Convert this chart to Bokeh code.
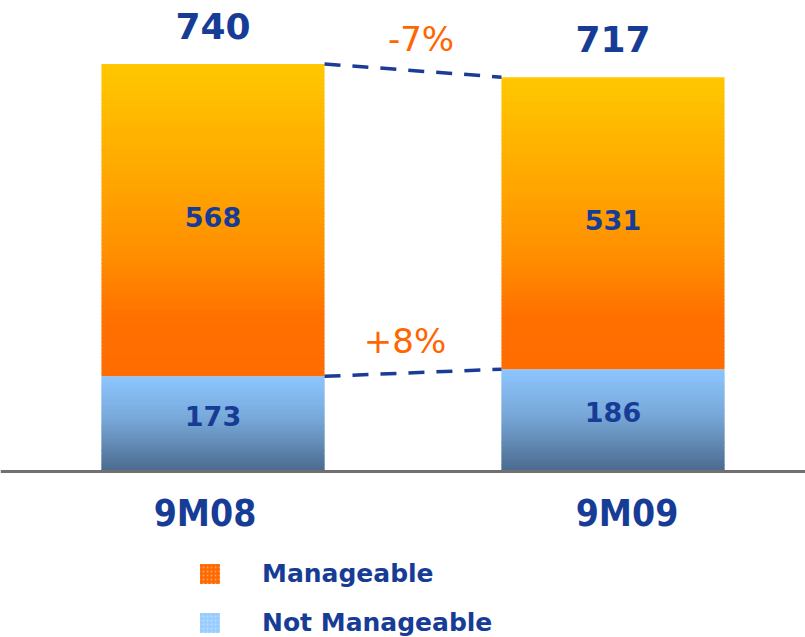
from bokeh.plotting import figure
from bokeh.models import Range1d, Span, ColumnDataSource, Legend, LegendItem
from bokeh.core.properties import value
from bokeh.embed import file_html
from bokeh.resources import INLINE

# ---------------- data ----------------
categories = ["9M08", "9M09"]
not_manageable = [173, 186]
manageable = [568, 531]
totals_text = ["740", "717"]
change_labels = ["-7%", "+8%"]   # total change, not-manageable change

# ---------------- style ----------------
BLUE_TXT = "#173c96"
ORANGE_TXT = "#ff6600"
orange_stops = [(0.0, "#ffc800"), (0.35, "#ffa800"), (0.6, "#ff9000"), (0.82, "#ff7000"), (1.0, "#ff6c00")]
blue_stops = [(0.0, "#8cc6ff"), (0.45, "#78a8d8"), (1.0, "#4a6a8e")]
BAR_W = 0.5575
PX_PER_UNIT = 0.55
BASE_PX = 471
H = 637
W = 805
N_SLICES = 80

def hex2rgb(h):
    h = h.lstrip("#")
    return tuple(int(h[i:i + 2], 16) for i in (0, 2, 4))

def interp(stops, t):
    for (t0, c0), (t1, c1) in zip(stops[:-1], stops[1:]):
        if t0 <= t <= t1:
            f = 0 if t1 == t0 else (t - t0) / (t1 - t0)
            a, b = hex2rgb(c0), hex2rgb(c1)
            return "#%02x%02x%02x" % tuple(round(a[k] + (b[k] - a[k]) * f) for k in range(3))
    return stops[-1][1]

xs = list(range(len(categories)))
y_top_val = BASE_PX / PX_PER_UNIT
y_bot_val = -(H - BASE_PX) / PX_PER_UNIT
x_left = -212.5 / 400
x_right = x_left + W / 400

p = figure(width=W, height=H, output_backend="svg", toolbar_location=None,
           x_range=Range1d(x_left, x_right), y_range=Range1d(y_bot_val, y_top_val),
           min_border=0, outline_line_color=None, background_fill_color="white",
           border_fill_color="white")
p.axis.visible = False
p.grid.visible = False

# gradient slices built from the data values
def gradient_segments(bottoms, tops, stops):
    d = dict(left=[], right=[], bottom=[], top=[], color=[])
    for x, b, t in zip(xs, bottoms, tops):
        for i in range(N_SLICES):
            frac_top = i / N_SLICES           # 0 at top of segment
            frac_bot = (i + 1) / N_SLICES
            d["left"].append(x - BAR_W / 2)
            d["right"].append(x + BAR_W / 2)
            d["top"].append(t - (t - b) * frac_top)
            d["bottom"].append(max(b, t - (t - b) * frac_bot - 1.5))
            d["color"].append(interp(stops, (i + 0.5) / N_SLICES))
    return ColumnDataSource(d)

nm_bottom = [0] * len(xs)
nm_top = not_manageable
m_top = [a + b for a, b in zip(not_manageable, manageable)]

p.quad(source=gradient_segments(nm_bottom, nm_top, blue_stops), left="left", right="right",
       bottom="bottom", top="top", fill_color="color", line_color=None)
p.quad(source=gradient_segments(nm_top, m_top, orange_stops), left="left", right="right",
       bottom="bottom", top="top", fill_color="color", line_color=None)

# baseline
p.add_layout(Span(location=0, dimension="width", line_color="#707070", line_width=3))

# dashed connectors
p.segment(x0=[xs[0] + BAR_W / 2] * 2, y0=[m_top[0], nm_top[0]],
          x1=[xs[1] - BAR_W / 2] * 2, y1=[m_top[1], nm_top[1]],
          line_color="#1a3c96", line_width=3.5, line_dash="16 12")

# total labels
p.text(x=xs, y=m_top, text=totals_text, text_align="center", text_baseline="middle",
       y_offset=-38, text_font=value("DejaVu Sans"), text_font_style="bold",
       text_font_size="36px", text_color=BLUE_TXT)

# inner labels
m_mid = [(a + b) / 2 for a, b in zip(nm_top, m_top)]
nm_mid = [t / 2 for t in nm_top]
p.text(x=xs, y=m_mid, text=[str(v) for v in manageable], text_align="center",
       text_baseline="middle", text_font=value("DejaVu Sans"), text_font_style="bold",
       text_font_size="27px", text_color=BLUE_TXT, y_offset=-3)
p.text(x=xs, y=nm_mid, text=[str(v) for v in not_manageable], text_align="center",
       text_baseline="middle", text_font=value("DejaVu Sans"), text_font_style="bold",
       text_font_size="27px", text_color=BLUE_TXT, y_offset=-8)

# change labels
mid_x = sum(xs) / len(xs)
pct_y = [sum(m_top) / len(m_top), sum(nm_top) / len(nm_top)]
p.text(x=[mid_x] * 2, y=pct_y, text=change_labels, text_align="center", text_baseline="middle",
       x_offset=[8, -8], y_offset=-32, text_font=value("DejaVu Sans"),
       text_font_size="34px", text_color=ORANGE_TXT)

# category labels
p.text(x=xs, y=[0] * len(xs), text=categories, text_align="center", text_baseline="middle",
       x_offset=[-8, 14], y_offset=42, text_font=value("DejaVu Sans Condensed"),
       text_font_style="bold", text_font_size="37px", text_color=BLUE_TXT)

# legend glyphs (empty renderers)
nan = float("nan")
r_m = p.rect(x=[nan], y=[nan], width=1, height=1, fill_color="#ff6a00", line_color=None,
             hatch_pattern="dot", hatch_color="white", hatch_alpha=0.35, hatch_scale=4)
r_nm = p.rect(x=[nan], y=[nan], width=1, height=1, fill_color="#99ccff", line_color=None,
              hatch_pattern="dot", hatch_color="white", hatch_alpha=0.35, hatch_scale=4)
legend = Legend(items=[LegendItem(label="Manageable", renderers=[r_m]),
                       LegendItem(label="Not Manageable", renderers=[r_nm])],
                location=(197, 0), orientation="vertical", padding=0, margin=0,
                spacing=20, glyph_width=25, glyph_height=25, label_height=25,
                label_standoff=40, border_line_color=None, background_fill_alpha=0,
                label_text_font="DejaVu Sans", label_text_font_style="bold",
                label_text_font_size="25px", label_text_color=BLUE_TXT,
                label_text_baseline="middle")
p.add_layout(legend)

open("out.html", "w").write(file_html(p, INLINE))
